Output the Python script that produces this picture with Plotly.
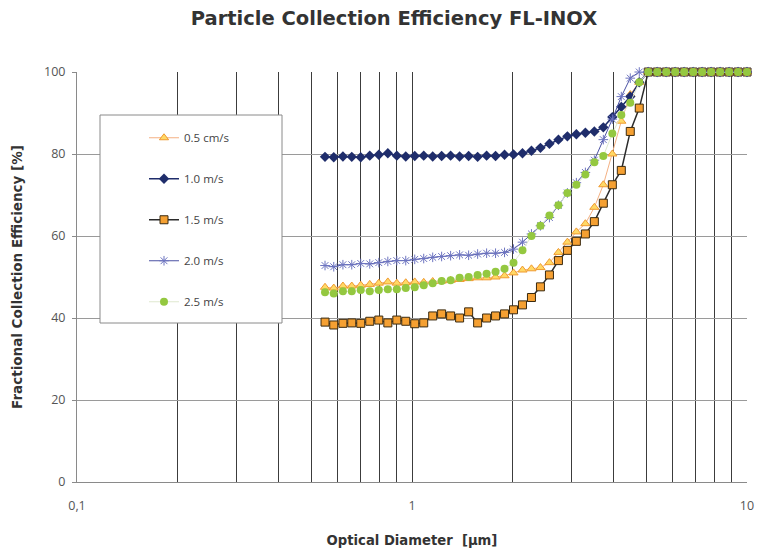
import plotly.graph_objects as go

title = "Particle Collection Efficiency FL-INOX"
x_title = "Optical Diameter  [µm]"
y_title = "Fractional Collection Efficiency [%]"

diameter_um = [0.550, 0.584, 0.622, 0.661, 0.703, 0.748, 0.796, 0.847, 0.901, 0.958,
               1.019, 1.084, 1.153, 1.226, 1.304, 1.387, 1.476, 1.570, 1.670, 1.776,
               1.889, 2.009, 2.137, 2.273, 2.418, 2.572, 2.736, 2.910, 3.095, 3.293,
               3.502, 3.725, 3.963, 4.215, 4.483, 4.769, 5.073, 5.396, 5.740, 6.105,
               6.494, 6.908, 7.345, 7.814, 8.312, 8.843, 9.404, 10.0]

eff_05cms = [47.5, 47.3, 47.8, 47.8, 48.0, 48.2, 48.5, 48.8, 48.5, 48.6,
             48.8, 48.7, 48.9, 49.0, 49.2, 49.4, 49.6, 49.8, 49.8, 50.0,
             50.3, 51.0, 51.7, 52.0, 52.3, 53.5, 56.0, 58.5, 61.0, 63.0,
             67.0, 72.5, 80.0, 88.0, 94.5, 97.5, 100, 100, 100, 100,
             100, 100, 100, 100, 100, 100, 100, 100]

eff_10ms = [79.3, 79.2, 79.4, 79.3, 79.2, 79.6, 79.8, 80.2, 79.6, 79.4,
            79.5, 79.6, 79.4, 79.5, 79.6, 79.4, 79.5, 79.3, 79.6, 79.5,
            79.8, 79.9, 80.2, 80.8, 81.5, 82.5, 83.5, 84.3, 84.8, 85.2,
            85.5, 86.5, 89.0, 91.5, 94.0, 97.5, 100, 100, 100, 100,
            100, 100, 100, 100, 100, 100, 100, 100]

eff_15ms = [39.0, 38.3, 38.7, 38.8, 38.7, 39.2, 39.5, 38.8, 39.5, 39.2,
            38.6, 38.8, 40.5, 41.0, 40.5, 40.0, 41.5, 38.8, 40.0, 40.5,
            41.0, 42.0, 43.2, 45.0, 47.6, 50.5, 54.0, 56.5, 58.7, 60.5,
            63.5, 68.0, 72.5, 76.0, 85.5, 91.2, 100, 100, 100, 100,
            100, 100, 100, 100, 100, 100, 100, 100]

eff_20ms = [52.8, 52.5, 53.0, 53.0, 53.3, 53.2, 53.5, 53.8, 54.0, 54.0,
            54.3, 54.5, 54.8, 55.0, 55.2, 55.4, 55.3, 55.6, 55.8, 55.8,
            56.0, 56.8, 58.5, 60.5, 62.5, 64.5, 67.5, 70.5, 73.0, 75.5,
            78.5, 83.5, 88.5, 94.0, 98.5, 100, 100, 100, 100, 100,
            100, 100, 100, 100, 100, 100, 100, 100]

eff_25ms = [46.3, 46.0, 46.5, 46.5, 46.8, 46.5, 46.8, 47.0, 47.0, 47.3,
            47.5, 48.0, 48.5, 49.0, 49.2, 49.8, 50.0, 50.5, 50.8, 51.3,
            52.0, 53.5, 56.5, 60.0, 62.5, 65.0, 67.5, 70.5, 72.5, 75.0,
            78.0, 79.5, 85.0, 89.5, 92.5, 97.5, 100, 100, 100, 100,
            100, 100, 100, 100, 100, 100, 100, 100]

series_names = ["0.5 cm/s", "1.0 m/s", "1.5 m/s", "2.0 m/s", "2.5 m/s"]

x_tick_vals = [0.1, 0.2, 0.3, 0.4, 0.5, 0.6, 0.7, 0.8, 0.9,
               1, 2, 3, 4, 5, 6, 7, 8, 9, 10]
x_tick_text = ["0,1", "", "", "", "", "", "", "", "",
               "1", "", "", "", "", "", "", "", "", "10"]
y_tick_vals = [0, 20, 40, 60, 80, 100]

styles = [
    dict(line=dict(color="#f4b183", width=1),
         marker=dict(symbol="triangle-up", size=8, color="#ffd966",
                     line=dict(color="#f09a30", width=1))),
    dict(line=dict(color="#1f2d6b", width=1.5),
         marker=dict(symbol="diamond", size=8, color="#1f2d6b",
                     line=dict(color="#1f2d6b", width=0))),
    dict(line=dict(color="#2b2b2b", width=1.5),
         marker=dict(symbol="square", size=8, color="#f5a032",
                     line=dict(color="#3a2a10", width=1))),
    dict(line=dict(color="#4b52a3", width=1),
         marker=dict(symbol="asterisk-open", size=8, color="#6d74c0",
                     line=dict(color="#6d74c0", width=1))),
    dict(line=dict(color="#dfe8cf", width=1),
         marker=dict(symbol="circle", size=8, color="#94c840",
                     line=dict(color="#94c840", width=0))),
]
all_series = [eff_05cms, eff_10ms, eff_15ms, eff_20ms, eff_25ms]

fig = go.Figure()
for name, vals, st in zip(series_names, all_series, styles):
    fig.add_trace(go.Scatter(
        x=diameter_um, y=vals, name=name, mode="lines+markers",
        line=st["line"], marker=st["marker"], cliponaxis=False,
        legendgroup=name,
    ))

font_family = "Open Sans, Liberation Sans, sans-serif"
title_family = "DejaVu Sans, Open Sans, sans-serif"

fig.update_layout(
    width=757, height=555,
    margin=dict(l=77, r=10, t=72, b=73, autoexpand=False),
    paper_bgcolor="white", plot_bgcolor="white",
    font=dict(family=font_family, size=12, color="#444"),
    title=dict(text="<b>" + title + "</b>", x=394 / 757, xanchor="center",
               y=1 - 18 / 555, yanchor="middle", yref="container",
               font=dict(family=title_family, size=19.5, color="#333")),
    showlegend=True,
    legend=dict(x=0.10, xanchor="left", y=0.875, yanchor="top",
                bgcolor="rgba(0,0,0,0)", borderwidth=0,
                traceorder="grouped", tracegroupgap=22,
                font=dict(size=11.5, color="#444")),
    shapes=[dict(type="rect", xref="paper", yref="paper",
                 x0=(100 - 77) / 670, x1=(282 - 77) / 670,
                 y0=(482 - 323) / 410, y1=(482 - 115) / 410,
                 fillcolor="white", line=dict(color="#8a8a8a", width=1),
                 layer="above")],
)

fig.update_xaxes(
    type="log", range=[-1, 1], automargin=False,
    tickvals=x_tick_vals, ticktext=x_tick_text,
    showgrid=True, gridcolor="#3c3c3c", gridwidth=1.2,
    showline=True, linecolor="#8a8a8a", linewidth=1,
    ticks="", zeroline=False, ticklabelstandoff=12,
    tickfont=dict(size=12.5, color="#555"),
    title=dict(text="<b>" + x_title + "</b>", standoff=22,
               font=dict(family=title_family, size=13.2, color="#333")),
)
fig.update_yaxes(
    range=[0, 100], tickvals=y_tick_vals, automargin=False,
    showgrid=True, gridcolor="#9a9a9a", gridwidth=1,
    showline=True, linecolor="#8a8a8a", linewidth=1,
    ticks="outside", ticklen=4, tickcolor="#8a8a8a", zeroline=False,
    ticklabelstandoff=4,
    tickfont=dict(size=12.5, color="#555"),
    title=dict(text="<b>" + y_title + "</b>", standoff=18,
               font=dict(family=title_family, size=13.5, color="#333")),
)

fig.write_html("out.html")
